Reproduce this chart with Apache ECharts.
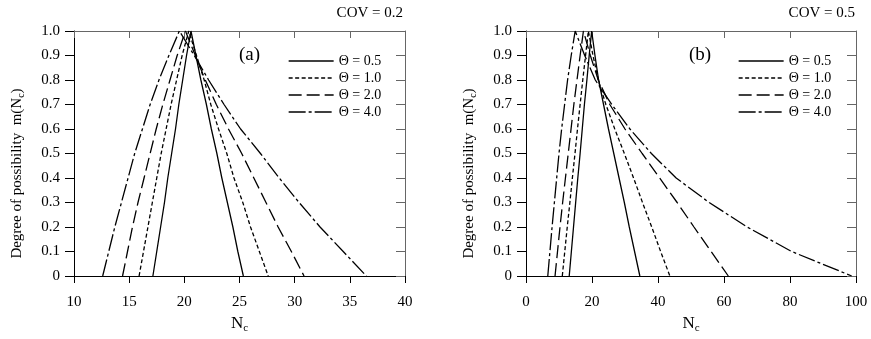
<!DOCTYPE html>
<html><head><meta charset="utf-8">
<script src="https://cdn.jsdelivr.net/npm/echarts@6/dist/echarts.min.js"></script>
<style>html,body{margin:0;padding:0;background:#fff}#c{width:871px;height:339px}</style>
</head><body><div id="c"></div>
<script>
// ---- data ----
const thetaNames = ['Θ = 0.5', 'Θ = 1.0', 'Θ = 2.0', 'Θ = 4.0'];
const mLevels = [0, 0.1, 0.2, 0.3, 0.4, 0.5, 0.6, 0.7, 0.8, 0.9, 1.0];
const yTicks = ['0', '0.1', '0.2', '0.3', '0.4', '0.5', '0.6', '0.7', '0.8', '0.9', '1.0'];
const xTicksA = [10, 15, 20, 25, 30, 35, 40];
const xTicksB = [0, 20, 40, 60, 80, 100];

// Panel (a), COV = 0.2 : N_c at each m level (rising side, falling side), m ascending
const a05Rise = [17.15, 17.5, 17.85, 18.2, 18.5, 18.85, 19.2, 19.5, 19.85, 20.2, 20.6];
const a05Fall = [25.35, 24.85, 24.4, 23.9, 23.4, 22.95, 22.45, 22.0, 21.5, 21.05, 20.6];
const a10Rise = [15.9, 16.3, 16.7, 17.1, 17.5, 17.9, 18.35, 18.8, 19.3, 19.8, 20.4];
const a10Fall = [27.6, 26.8, 26.0, 25.3, 24.5, 23.85, 23.1, 22.4, 21.8, 21.1, 20.4];
const a20Rise = [14.4, 14.85, 15.3, 15.8, 16.35, 16.9, 17.45, 18.05, 18.7, 19.35, 20.1];
const a20Fall = [30.85, 29.7, 28.5, 27.4, 26.3, 25.2, 24.0, 22.9, 21.9, 21.0, 20.1];
const a40Rise = [12.6, 13.15, 13.7, 14.3, 14.9, 15.5, 16.2, 16.9, 17.7, 18.6, 19.55];
const a40Fall = [36.5, 34.4, 32.3, 30.4, 28.6, 26.9, 25.1, 23.6, 22.2, 20.9, 19.55];

// Panel (b), COV = 0.5
const b05Rise = [13.1, 13.75, 14.4, 15.05, 15.7, 16.4, 17.05, 17.7, 18.45, 19.15, 19.9];
const b05Fall = [34.5, 32.9, 31.3, 29.8, 28.2, 26.6, 25.0, 23.5, 22.0, 20.9, 19.9];
const b10Rise = [11.0, 11.75, 12.5, 13.3, 14.05, 14.85, 15.6, 16.4, 17.2, 18.05, 18.9];
const b10Fall = [43.6, 40.8, 38.1, 35.3, 32.6, 29.8, 26.9, 24.2, 21.9, 20.3, 18.9];
const b20Rise = [8.8, 9.55, 10.3, 11.1, 11.95, 12.8, 13.65, 14.5, 15.45, 16.4, 17.4];
const b20Fall = [61.3, 56.1, 50.9, 45.8, 40.5, 35.2, 30.0, 25.4, 21.9, 19.5, 17.4];
const b40Rise = [6.6, 7.25, 7.9, 8.6, 9.3, 10.0, 10.8, 11.7, 12.6, 13.7, 14.9];
const b40Fall = [98.7, 80.5, 67.0, 55.5, 45.5, 38.0, 31.5, 26.0, 21.0, 17.8, 14.9];

// ---- styling ----
const FONT = '"Liberation Serif", "Times New Roman", serif';
const lineTypes = ['solid', [4, 2.5], [13, 5], [17, 3, 3, 3]];

function curve(rise, fall) {
  const up = rise.map((x, i) => [x, mLevels[i]]);
  const down = fall.map((x, i) => [x, mLevels[i]]).reverse().slice(1);
  return up.concat(down);
}
const panelA = [[a05Rise, a05Fall], [a10Rise, a10Fall], [a20Rise, a20Fall], [a40Rise, a40Fall]];
const panelB = [[b05Rise, b05Fall], [b10Rise, b10Fall], [b20Rise, b20Fall], [b40Rise, b40Fall]];

const series = [];
[panelA, panelB].forEach((panel, p) => {
  panel.forEach((pair, k) => {
    series.push({
      name: thetaNames[k], type: 'line', xAxisIndex: p * 2, yAxisIndex: p * 2,
      data: curve(pair[0], pair[1]), symbol: 'none', smooth: false,
      itemStyle: { color: '#000' },
      lineStyle: { color: '#000', width: 1.3, type: lineTypes[k] }
    });
  });
});

const yName = '{n|Degree of possibility  m(N}{s|c}{n|)}';
const richName = {
  n: { fontFamily: FONT, fontSize: 15, color: '#000', lineHeight: 18 },
  s: { fontFamily: FONT, fontSize: 10, color: '#000', lineHeight: 18, verticalAlign: 'bottom', padding: [6, 0, 0, 0] }
};
const xName = '{n|N}{s|c}';
const richX = {
  n: { fontFamily: FONT, fontSize: 17, color: '#000', lineHeight: 20 },
  s: { fontFamily: FONT, fontSize: 11, color: '#000', lineHeight: 20, verticalAlign: 'bottom', padding: [8, 0, 0, 0] }
};

function bottomX(grid, ticks) {
  return {
    type: 'value', gridIndex: grid, position: 'bottom',
    min: ticks[0], max: ticks[ticks.length - 1], interval: ticks[1] - ticks[0],
    name: xName, nameLocation: 'middle', nameGap: 38,
    nameTextStyle: { rich: richX },
    axisLine: { show: true, onZero: false, lineStyle: { color: '#000', width: 1 } },
    axisTick: { show: true, length: 7, lineStyle: { color: '#000' } },
    axisLabel: { margin: 19, fontFamily: FONT, fontSize: 15, color: '#000' },
    splitLine: { show: false }
  };
}
function topX(grid, ticks) {
  return {
    type: 'value', gridIndex: grid, position: 'top',
    min: ticks[0], max: ticks[ticks.length - 1], interval: ticks[1] - ticks[0],
    axisLine: { show: true, onZero: false, lineStyle: { color: '#666', width: 1 } },
    axisTick: { show: true, inside: true, length: 7, lineStyle: { color: '#666' } },
    axisLabel: { show: false }, splitLine: { show: false }
  };
}
function leftY(grid) {
  return {
    type: 'value', gridIndex: grid, position: 'left', min: 0, max: 1, interval: 0.1,
    name: yName, nameLocation: 'middle', nameRotate: 90, nameGap: 48,
    nameTextStyle: { rich: richName, padding: [0, 40, 0, 0] },
    axisLine: { show: true, onZero: false, lineStyle: { color: '#000', width: 1 } },
    axisTick: { show: true, length: 9, lineStyle: { color: '#000' } },
    axisLabel: { margin: 14, fontFamily: FONT, fontSize: 15, color: '#000',
      formatter: v => yTicks[Math.round(v * 10)] },
    splitLine: { show: false }
  };
}
function rightY(grid) {
  return {
    type: 'value', gridIndex: grid, position: 'right', min: 0, max: 1, interval: 0.1,
    axisLine: { show: true, onZero: false, lineStyle: { color: '#666', width: 1 } },
    axisTick: { show: true, inside: true, length: 9, lineStyle: { color: '#666' } },
    axisLabel: { show: false }, splitLine: { show: false }
  };
}
function legendAt(left) {
  return {
    left: left, top: 49, orient: 'vertical', selectedMode: false,
    itemWidth: 45, itemHeight: 12, itemGap: 3,
    data: thetaNames,
    itemStyle: { opacity: 0 },
    lineStyle: { color: '#000', width: 1.3 },
    textStyle: { fontFamily: FONT, fontSize: 14, color: '#000' }
  };
}

const chart = echarts.init(document.getElementById('c'), null, { renderer: 'canvas' });
chart.setOption({
  animation: false,
  backgroundColor: '#fff',
  grid: [
    { left: 74, top: 31, width: 331, height: 247 },
    { left: 526, top: 31, width: 330, height: 247 }
  ],
  xAxis: [bottomX(0, xTicksA), topX(0, xTicksA), bottomX(1, xTicksB), topX(1, xTicksB)],
  yAxis: [leftY(0), rightY(0), leftY(1), rightY(1)],
  legend: [legendAt(283), legendAt(733)],
  graphic: [
    { type: 'text', left: 239, top: 46, style: { text: '(a)', font: '19px ' + FONT, fill: '#000' } },
    { type: 'text', left: 689, top: 46, style: { text: '(b)', font: '19px ' + FONT, fill: '#000' } },
    { type: 'text', right: 468, top: 6, style: { text: 'COV = 0.2', font: '15px ' + FONT, fill: '#000' } },
    { type: 'text', right: 16, top: 6, style: { text: 'COV = 0.5', font: '15px ' + FONT, fill: '#000' } }
  ],
  series: series
});
</script></body></html>
